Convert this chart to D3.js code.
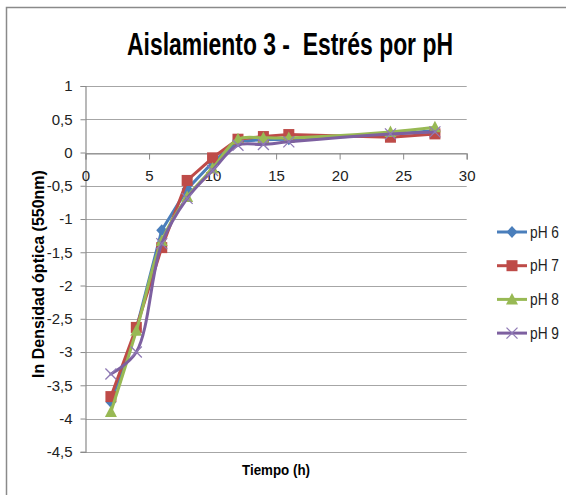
<!DOCTYPE html>
<html>
<head>
<meta charset="utf-8">
<script src="https://cdn.jsdelivr.net/npm/d3@7"></script>
<style>
  html, body { margin: 0; padding: 0; background: #fff; }
  svg { display: block; }
  text { font-family: "Liberation Sans Narrow", "Liberation Sans", Arial, sans-serif; white-space: pre; }
</style>
</head>
<body>
<svg id="chart" width="566" height="495"></svg>
<script>
// Sampling times (h)
const tiempos = [2, 4, 6, 8, 10, 12, 14, 16, 24, 27.5];

// ln of optical density (550 nm) for each pH
const ph6 = [-3.75, -2.65, -1.17, -0.55, -0.15, 0.17, 0.19, 0.20, 0.27, 0.33];
const ph7 = [-3.67, -2.63, -1.43, -0.42, -0.08, 0.20, 0.24, 0.27, 0.23, 0.28];
const ph8 = [-3.90, -2.68, -1.33, -0.67, -0.24, 0.20, 0.22, 0.22, 0.31, 0.38];
const ph9 = [-3.33, -3.00, -1.37, -0.69, -0.27, 0.11, 0.12, 0.16, 0.28, 0.31];

const seriesNames = ["pH 6", "pH 7", "pH 8", "pH 9"];
const xTicks = [0, 5, 10, 15, 20, 25, 30];
const yTicks = [1, 0.5, 0, -0.5, -1, -1.5, -2, -2.5, -3, -3.5, -4, -4.5];

const title = "Aislamiento 3 -  Estrés por pH";
const xTitle = "Tiempo (h)";
const yTitle = "ln Densidad óptica (550nm)";

const series = [
  { name: seriesNames[0], values: ph6, color: "#4a7ebb", marker: "diamond", smooth: false },
  { name: seriesNames[1], values: ph7, color: "#be4b48", marker: "square",  smooth: false },
  { name: seriesNames[2], values: ph8, color: "#98b954", marker: "triangle", smooth: true },
  { name: seriesNames[3], values: ph9, color: "#7d60a0", marker: "cross",   smooth: true }
];

const svg = d3.select("#chart");

// outer chart frame (top and left edges)
svg.append("path")
  .attr("d", "M6.5,495 L6.5,7.5 L566,7.5")
  .attr("fill", "none")
  .attr("stroke", "#8a8a8a")
  .attr("stroke-width", 1.5);

const x = d3.scaleLinear().domain([0, 30]).range([85.5, 466.7]);
const y = d3.scaleLinear().domain([-4.5, 1]).range([451.8, 86]);

// horizontal gridlines
svg.append("g")
  .selectAll("line")
  .data(yTicks)
  .join("line")
  .attr("x1", x(0)).attr("x2", x(30))
  .attr("y1", d => Math.round(y(d)) + 0.5)
  .attr("y2", d => Math.round(y(d)) + 0.5)
  .attr("stroke", "#a6a6a6")
  .attr("stroke-width", 1.2);

const tickFont = "\"Liberation Sans Narrow\", \"Liberation Sans\", Arial, sans-serif";

// y axis (left)
const yAxis = d3.axisLeft(y)
  .tickValues(yTicks)
  .tickSize(5)
  .tickPadding(8)
  .tickFormat(d => d3.format("")(d).replace(".", ",").replace("−", "-"));
const gy = svg.append("g")
  .attr("transform", `translate(${x(0)},0)`)
  .call(yAxis);
gy.select(".domain").attr("stroke", "#8a8a8a").attr("stroke-width", 1.2);
gy.selectAll(".tick line").attr("stroke", "#8a8a8a");
gy.selectAll(".tick text")
  .attr("fill", "#222")
  .style("font-size", "15px")
  .style("font-family", tickFont);

// x axis crossing at y = 0
const xAxis = d3.axisBottom(x)
  .tickValues(xTicks)
  .tickSize(6)
  .tickPadding(11)
  .tickFormat(d3.format("d"));
const gx = svg.append("g")
  .attr("transform", `translate(0,${Math.round(y(0)) + 0.5})`)
  .call(xAxis);
gx.select(".domain").attr("stroke", "#8a8a8a").attr("stroke-width", 1.2);
gx.selectAll(".tick line").attr("stroke", "#8a8a8a");
gx.selectAll(".tick text")
  .attr("fill", "#222")
  .style("font-size", "15px")
  .style("font-family", tickFont);

// marker shapes
function drawMarker(g, type, cx, cy, color) {
  if (type === "diamond") {
    g.append("path")
      .attr("d", `M${cx},${cy - 6} L${cx + 5.5},${cy} L${cx},${cy + 6} L${cx - 5.5},${cy} Z`)
      .attr("fill", color);
  } else if (type === "square") {
    g.append("rect")
      .attr("x", cx - 5.5).attr("y", cy - 5.5)
      .attr("width", 11).attr("height", 11)
      .attr("fill", color);
  } else if (type === "triangle") {
    g.append("path")
      .attr("d", `M${cx},${cy - 6.5} L${cx + 6},${cy + 5} L${cx - 6},${cy + 5} Z`)
      .attr("fill", color);
  } else if (type === "cross") {
    g.append("path")
      .attr("d", `M${cx - 5.5},${cy - 5.5} L${cx + 5.5},${cy + 5.5} M${cx - 5.5},${cy + 5.5} L${cx + 5.5},${cy - 5.5}`)
      .attr("stroke", "#8f7ab5")
      .attr("stroke-width", 1.3)
      .attr("fill", "none");
  }
}

// series lines and markers
series.forEach(s => {
  const pts = tiempos.map((t, i) => [t, s.values[i]]);
  const line = d3.line()
    .x(d => x(d[0]))
    .y(d => y(d[1]))
    .curve(s.smooth ? d3.curveCatmullRom.alpha(0.5) : d3.curveLinear);
  const g = svg.append("g");
  g.append("path")
    .datum(pts)
    .attr("d", line)
    .attr("fill", "none")
    .attr("stroke", s.color)
    .attr("stroke-width", 3)
    .attr("stroke-linejoin", "round")
    .attr("stroke-linecap", "round");
  pts.forEach(p => drawMarker(g, s.marker, x(p[0]), y(p[1]), s.color));
});

// text squeezed horizontally to a given width (narrow face look)
function narrowText(cx, cy, rotate, width, size, weight, str) {
  const g = svg.append("g")
    .attr("transform", `translate(${cx},${cy}) rotate(${rotate})`);
  const t = g.append("text")
    .attr("text-anchor", "middle")
    .attr("fill", "#000")
    .attr("font-weight", weight)
    .style("font-size", size + "px")
    .text(str);
  const natural = t.node().getComputedTextLength();
  t.attr("transform", `scale(${Math.min(1, width / natural)},1)`);
  return t;
}

// legend
const legend = svg.append("g");
series.forEach((s, i) => {
  const ly = 232 + i * 33.7;
  legend.append("line")
    .attr("x1", 497).attr("x2", 527)
    .attr("y1", ly).attr("y2", ly)
    .attr("stroke", s.color)
    .attr("stroke-width", 3);
  drawMarker(legend, s.marker, 512, ly, s.color);
  narrowText(544.5, ly + 5.5, 0, 29, 16, "normal", s.name).attr("fill", "#222");
});

// title
narrowText(290, 55, 0, 326, 31, "bold", title);

// axis titles
narrowText(276, 475, 0, 68, 14, "bold", xTitle);
narrowText(44, 274, -90, 208, 16, "bold", yTitle);
</script>
</body>
</html>
